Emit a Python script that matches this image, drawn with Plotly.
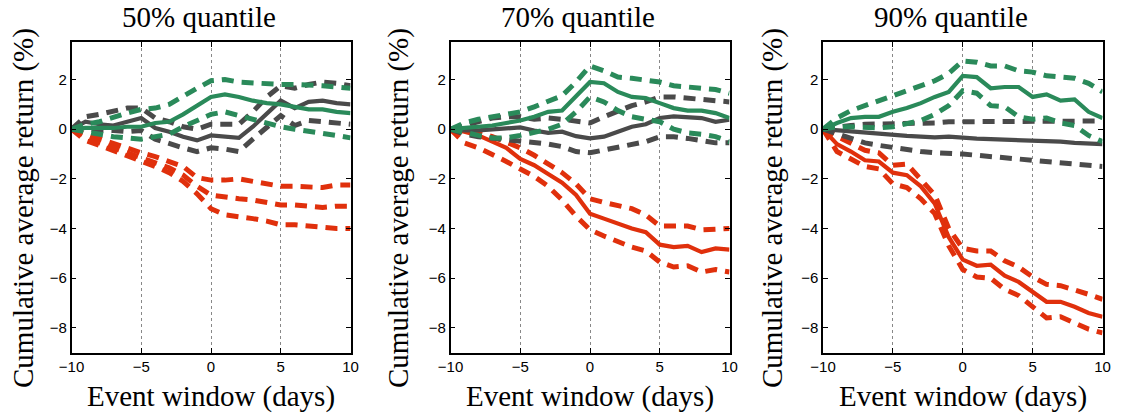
import plotly.graph_objects as go

days = list(range(-10, 11))
titles = ["50% quantile", "70% quantile", "90% quantile"]
x_ticks = [-10, -5, 0, 5, 10]
y_ticks = [-8, -6, -4, -2, 0, 2]

# Panel 1 (50% quantile)
p1_green = [0, 0.05, 0.05, 0.05, 0.1, 0.1, 0.25, 0.3, 0.6, 0.95, 1.3, 1.4, 1.3, 1.15, 1.05, 1.0, 0.9, 0.8, 0.8, 0.7, 0.65]
p1_green_hi = [0, 0.2, 0.3, 0.5, 0.65, 0.8, 0.85, 1.0, 1.35, 1.65, 1.95, 2.0, 1.9, 1.85, 1.85, 1.8, 1.8, 1.75, 1.75, 1.7, 1.65]
p1_green_lo = [0, -0.1, -0.2, -0.3, -0.35, -0.4, -0.3, -0.2, 0.1, 0.35, 0.6, 0.7, 0.55, 0.35, 0.2, 0.1, 0.0, -0.1, -0.15, -0.25, -0.35]
p1_gray = [0, 0.3, 0.2, 0.15, 0.3, 0.45, 0.05, -0.1, -0.3, -0.45, -0.25, -0.3, -0.35, 0.1, 0.6, 1.15, 0.85, 1.1, 1.15, 1.05, 1.0]
p1_gray_hi = [0, 0.5, 0.6, 0.75, 0.85, 0.85, 0.45, 0.3, 0.1, 0.0, 0.2, 0.2, 0.2, 0.7, 1.3, 1.75, 1.65, 1.8, 1.9, 1.85, 1.75]
p1_gray_lo = [0, 0.0, 0.0, -0.05, -0.1, -0.05, -0.4, -0.6, -0.75, -0.9, -0.75, -0.8, -0.9, -0.4, 0.1, 0.55, 0.15, 0.35, 0.3, 0.25, 0.2]
p1_red = [0, -0.3, -0.55, -0.75, -0.95, -1.15, -1.3, -1.55, -1.85, -2.3, -2.65, -2.75, -2.8, -2.85, -2.95, -3.05, -3.05, -3.1, -3.15, -3.1, -3.1]
p1_red_hi = [0, -0.2, -0.35, -0.55, -0.75, -0.95, -1.1, -1.3, -1.5, -1.95, -2.05, -2.05, -2.0, -2.1, -2.2, -2.3, -2.3, -2.3, -2.35, -2.25, -2.25]
p1_red_lo = [0, -0.45, -0.65, -0.85, -1.1, -1.3, -1.5, -1.75, -2.1, -2.6, -3.2, -3.45, -3.5, -3.6, -3.7, -3.85, -3.85, -3.9, -4.0, -4.0, -4.0]

# Panel 2 (70% quantile)
p2_green = [0, 0.05, 0.1, 0.15, 0.25, 0.35, 0.5, 0.7, 0.75, 1.3, 1.9, 1.85, 1.5, 1.3, 1.25, 1.05, 0.85, 0.75, 0.75, 0.65, 0.45]
p2_green_hi = [0, 0.25, 0.4, 0.5, 0.55, 0.7, 0.9, 1.1, 1.35, 1.9, 2.55, 2.35, 2.1, 2.05, 2.0, 1.9, 1.75, 1.7, 1.7, 1.6, 1.45]
p2_green_lo = [0, -0.15, -0.25, -0.35, -0.35, -0.25, -0.15, 0.0, 0.2, 0.7, 1.3, 1.1, 0.75, 0.5, 0.4, 0.3, 0.0, -0.15, -0.2, -0.3, -0.5]
p2_gray = [0, -0.05, -0.05, 0.0, 0.05, 0.07, -0.05, -0.15, -0.1, -0.28, -0.37, -0.3, -0.1, 0.1, 0.2, 0.45, 0.52, 0.47, 0.45, 0.3, 0.38]
p2_gray_hi = [0, 0.15, 0.3, 0.45, 0.5, 0.5, 0.4, 0.45, 0.4, 0.3, 0.25, 0.5, 0.75, 0.95, 1.1, 1.3, 1.3, 1.25, 1.25, 1.2, 1.1]
p2_gray_lo = [0, -0.2, -0.3, -0.35, -0.45, -0.5, -0.55, -0.6, -0.7, -0.9, -0.95, -0.85, -0.7, -0.65, -0.5, -0.3, -0.3, -0.37, -0.45, -0.55, -0.55]
p2_red = [0, -0.1, -0.25, -0.5, -0.75, -1.2, -1.45, -1.8, -2.15, -2.65, -3.4, -3.6, -3.8, -4.0, -4.15, -4.65, -4.75, -4.7, -4.95, -4.8, -4.85]
p2_red_hi = [0, -0.05, -0.15, -0.3, -0.5, -0.75, -1.05, -1.4, -1.75, -2.2, -2.8, -2.95, -3.05, -3.2, -3.45, -3.9, -3.9, -3.9, -4.05, -4.0, -4.0]
p2_red_lo = [0, -0.55, -0.75, -1.0, -1.3, -1.6, -1.9, -2.3, -2.85, -3.5, -4.05, -4.3, -4.55, -4.75, -4.9, -5.35, -5.55, -5.5, -5.75, -5.65, -5.75]

# Panel 3 (90% quantile)
p3_green = [0, 0.25, 0.45, 0.5, 0.5, 0.7, 0.85, 1.05, 1.3, 1.5, 2.15, 2.1, 1.65, 1.7, 1.7, 1.3, 1.4, 1.15, 1.2, 0.7, 0.45]
p3_green_hi = [0, 0.45, 0.75, 0.95, 1.1, 1.3, 1.5, 1.75, 1.95, 2.25, 2.75, 2.7, 2.55, 2.55, 2.35, 2.3, 2.15, 2.1, 2.05, 1.85, 1.5]
p3_green_lo = [0, 0.1, 0.1, 0.05, 0.05, 0.1, 0.2, 0.35, 0.6, 0.95, 1.55, 1.45, 0.95, 0.9, 0.5, 0.4, 0.45, 0.25, 0.15, -0.25, -0.5]
p3_gray = [0, -0.05, -0.1, -0.15, -0.2, -0.22, -0.27, -0.3, -0.33, -0.3, -0.35, -0.38, -0.4, -0.42, -0.45, -0.47, -0.46, -0.5, -0.55, -0.58, -0.6]
p3_gray_hi = [0, 0.1, 0.15, 0.2, 0.2, 0.2, 0.22, 0.25, 0.25, 0.3, 0.3, 0.3, 0.3, 0.3, 0.32, 0.33, 0.35, 0.33, 0.33, 0.33, 0.33]
p3_gray_lo = [0, -0.2, -0.4, -0.55, -0.65, -0.75, -0.85, -0.9, -0.95, -0.95, -1.0, -1.05, -1.1, -1.15, -1.15, -1.2, -1.25, -1.3, -1.4, -1.45, -1.5]
p3_red = [0, -0.6, -0.9, -1.25, -1.3, -1.75, -1.85, -2.3, -3.0, -4.35, -5.25, -5.5, -5.45, -5.9, -6.15, -6.55, -6.95, -6.95, -7.15, -7.4, -7.55]
p3_red_hi = [0, -0.3, -0.6, -0.85, -0.95, -1.45, -1.4, -2.0, -2.65, -4.0, -4.8, -4.9, -4.9, -5.3, -5.55, -5.95, -6.25, -6.3, -6.45, -6.65, -6.85]
p3_red_lo = [0, -0.9, -1.2, -1.5, -1.6, -2.2, -2.35, -2.8, -3.4, -4.7, -5.65, -5.95, -6.0, -6.45, -6.7, -7.15, -7.6, -7.55, -7.8, -8.05, -8.2]

GREEN = "#2a8a5a"
GRAY = "#4a4a4a"
RED = "#e0300c"

panels = [
    dict(green=(p1_green, p1_green_hi, p1_green_lo), gray=(p1_gray, p1_gray_hi, p1_gray_lo),
         red=(p1_red, p1_red_hi, p1_red_lo), red_solid=False),
    dict(green=(p2_green, p2_green_hi, p2_green_lo), gray=(p2_gray, p2_gray_hi, p2_gray_lo),
         red=(p2_red, p2_red_hi, p2_red_lo), red_solid=True),
    dict(green=(p3_green, p3_green_hi, p3_green_lo), gray=(p3_gray, p3_gray_hi, p3_gray_lo),
         red=(p3_red, p3_red_hi, p3_red_lo), red_solid=True),
]

W, H = 1121, 417
x_domains_px = [(71.5, 350.5), (450.5, 729.5), (823, 1102.5)]
y_top_px, y_bot_px = 42.3, 352.7
ylab_x_px = [23, 398, 772]
title_shift_px = -12
SERIF = "Liberation Serif, Times New Roman, serif"

fig = go.Figure()
DASH = "12px,8px"
for i, p in enumerate(panels):
    xa = "x" if i == 0 else f"x{i+1}"
    ya = "y" if i == 0 else f"y{i+1}"
    order = [("red", RED, p["red_solid"]), ("gray", GRAY, True), ("green", GREEN, True)]
    for key, color, solid_mid in order:
        mid, hi, lo = p[key]
        for series in (hi, lo):
            fig.add_trace(go.Scatter(x=days, y=series, mode="lines", xaxis=xa, yaxis=ya,
                                     line=dict(color=color, width=5, dash=DASH), showlegend=False))
        fig.add_trace(go.Scatter(x=days, y=mid, mode="lines", xaxis=xa, yaxis=ya,
                                 line=dict(color=color, width=4.2 if solid_mid else 5,
                                           dash="solid" if solid_mid else DASH),
                                 showlegend=False))

layout = dict(width=W, height=H, margin=dict(l=0, r=0, t=0, b=0, autoexpand=False),
              paper_bgcolor="white", plot_bgcolor="white", showlegend=False)
annotations = []
for i in range(3):
    sfx = "" if i == 0 else str(i + 1)
    x0, x1 = x_domains_px[i]
    layout["xaxis" + sfx] = dict(
        domain=[x0 / W, x1 / W], range=[-10, 10], tickvals=x_ticks, automargin=False,
        ticks="inside", ticklen=5, tickcolor="black", mirror="ticks",
        showline=True, linecolor="black", linewidth=1.5,
        showgrid=True, gridcolor="#888888", griddash="dot", gridwidth=1,
        zeroline=False, anchor="y" + sfx,
        tickfont=dict(family="Liberation Sans, Arial", size=15, color="black"))
    layout["yaxis" + sfx] = dict(
        domain=[(H - y_bot_px) / H, (H - y_top_px) / H], range=[-9, 3.5], tickvals=y_ticks,
        automargin=False,
        ticks="inside", ticklen=5, tickcolor="black", mirror="ticks",
        showline=True, linecolor="black", linewidth=1.5,
        showgrid=False, zeroline=False, anchor="x" + sfx,
        tickfont=dict(family="Liberation Sans, Arial", size=15, color="black"))
    cx = (x0 + x1) / 2 / W
    annotations.append(dict(text=titles[i], x=((x0 + x1) / 2 + title_shift_px) / W, y=(H - 17) / H,
                            xref="paper", yref="paper",
                            showarrow=False, xanchor="center", yanchor="middle",
                            font=dict(family=SERIF, size=29, color="black")))
    annotations.append(dict(text="Event window (days)", x=cx, y=(H - 396) / H, xref="paper", yref="paper",
                            showarrow=False, xanchor="center", yanchor="middle",
                            font=dict(family=SERIF, size=29, color="black")))
    annotations.append(dict(text="Cumulative average return (%)", x=ylab_x_px[i] / W, y=(H - 208) / H,
                            xref="paper", yref="paper", textangle=-90,
                            showarrow=False, xanchor="center", yanchor="middle",
                            font=dict(family=SERIF, size=29, color="black")))
layout["annotations"] = annotations
fig.update_layout(**layout)
fig.write_html("out.html")
